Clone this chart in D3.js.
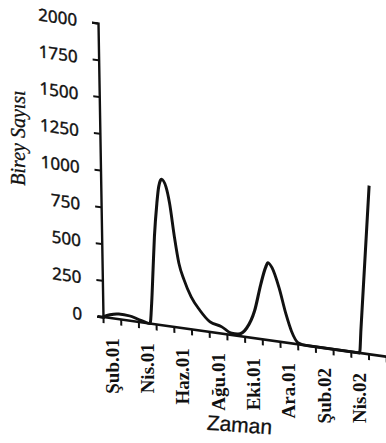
<!DOCTYPE html>
<html>
<head>
<meta charset="utf-8">
<script src="https://cdn.jsdelivr.net/npm/d3@7"></script>
<style>
  html, body { margin: 0; padding: 0; background: #fff; }
  svg { display: block; }
</style>
</head>
<body>
<div id="chart"></div>
<script>
// Months counted from the start of Şub.01 (fractional = position inside the month)
const months = [0, 0.4, 0.9, 1.5, 2.0, 2.4, 2.66, 2.77, 2.88, 2.99, 3.16, 3.28, 3.45, 3.69, 3.88,
                4.12, 4.35, 4.63, 5.01, 5.48, 6.05, 6.71, 7.3, 7.6, 8.12, 8.59, 8.97, 9.25, 9.4,
                9.62, 10.0, 10.37, 10.66, 11.03, 11.5, 12.5, 13.5, 14.5, 14.6, 15.2];
// Birey sayısı
const counts = [0, 22, 35, 33, 18, 5, 0, 140, 368, 597, 827, 942, 995, 948, 839,
                616, 439, 330, 222, 140, 70, 47, 12, 12, 60, 186, 374, 491, 528,
                498, 368, 193, 84, 11, 0, 0, 0, 0, 164, 1150];
const monthTicks = d3.range(0, 17);
const labelMonths = [0.5, 2.5, 4.5, 6.5, 8.5, 10.5, 12.5, 14.5];
const labelNames = ['Şub.01', 'Nis.01', 'Haz.01', 'Ağu.01', 'Eki.01', 'Ara.01', 'Şub.02', 'Nis.02'];
const yTicks = [0, 250, 500, 750, 1000, 1250, 1500, 1750, 2000];

const width = 386, height = 443;
const origin = { x: 103, y: 317 };
const slope = 0.14;   // the scan is skewed: x axis runs downhill

const svg = d3.select('#chart')
    .append('svg')
    .attr('width', width)
    .attr('height', height);

const plot = svg.append('g')
    .attr('transform', 'translate(' + origin.x + ',' + origin.y + ') matrix(1,' + slope + ',0.017,1,0,0)');

const x = d3.scaleLinear().domain([0, 16.5]).range([0, 292]);
const y = d3.scaleLinear().domain([0, 2000]).range([0, -294]);

// y axis
const yNode = plot.append('g')
    .call(d3.axisLeft(y).tickValues(yTicks).tickSize(6).tickPadding(15).tickFormat(d3.format('d')));
yNode.select('path').attr('stroke', '#111').attr('stroke-width', 2.4);
yNode.selectAll('line').attr('stroke', '#111').attr('stroke-width', 2);
yNode.selectAll('text')
    .attr('fill', '#111')
    .attr('stroke', '#111')
    .attr('stroke-width', 0.4)
    .style('font-family', '"Noto Sans", sans-serif')
    .style('font-size', '17px');

// x axis with monthly ticks
const xNode = plot.append('g')
    .call(d3.axisBottom(x).tickValues(monthTicks).tickSize(6).tickSizeOuter(0).tickFormat(''));
xNode.select('path').attr('stroke', '#111').attr('stroke-width', 2.6)
    .attr('d', 'M-5,0H' + x.range()[1]);
xNode.selectAll('line').attr('stroke', '#111').attr('stroke-width', 2);

// the curve
const line = d3.line()
    .curve(d3.curveMonotoneX)
    .x((d, i) => x(months[i]))
    .y(d => y(d));

plot.append('path')
    .attr('d', line(counts))
    .attr('fill', 'none')
    .attr('stroke', '#111')
    .attr('stroke-width', 3)
    .attr('stroke-linejoin', 'round');

// month labels every second month, kept upright (outside the skewed group)
svg.append('g')
    .selectAll('text')
    .data(labelMonths)
    .join('text')
    .attr('transform', d => 'translate(' + (origin.x + x(d)) + ',' + (origin.y + slope * x(d) + 20) + ') rotate(-90)')
    .attr('dy', '0.35em')
    .attr('text-anchor', 'end')
    .attr('fill', '#111')
    .style('font-family', '"Liberation Serif", serif')
    .style('font-weight', 'bold')
    .style('font-size', '19px')
    .text((d, i) => labelNames[i]);

// axis titles
svg.append('text')
    .attr('transform', 'translate(25,138) rotate(-90)')
    .attr('text-anchor', 'middle')
    .attr('fill', '#111')
    .attr('stroke', '#111')
    .attr('stroke-width', 0.3)
    .style('font-family', '"Liberation Serif", serif')
    .style('font-style', 'italic')
    .style('font-size', '20px')
    .text('Birey Sayısı');

svg.append('text')
    .attr('transform', 'translate(239,432) rotate(4)')
    .attr('text-anchor', 'middle')
    .attr('fill', '#111')
    .attr('stroke', '#111')
    .attr('stroke-width', 0.3)
    .style('font-family', '"Liberation Sans", sans-serif')
    .style('font-size', '21px')
    .text('Zaman');
</script>
</body>
</html>
